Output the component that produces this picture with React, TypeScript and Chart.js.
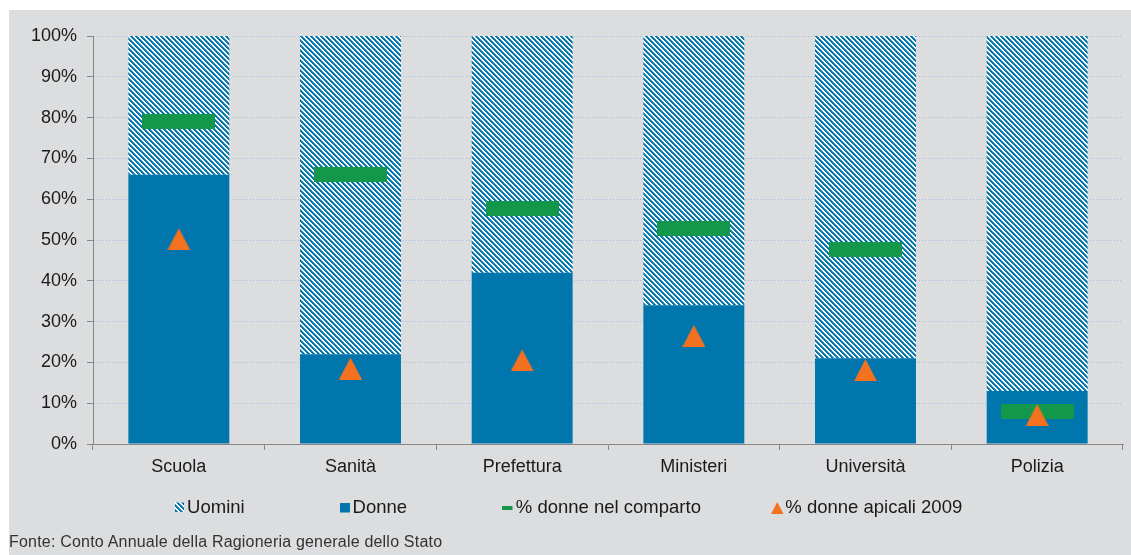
import React, { useEffect, useRef } from 'react';
import { Chart, registerables } from 'chart.js';

Chart.register(...registerables);

// ---- data ----
const categories = ['Scuola', 'Sanità', 'Prefettura', 'Ministeri', 'Università', 'Polizia'];
const donne = [66, 22, 42, 34, 21, 13];
const uomini = [34, 78, 58, 66, 79, 87];
const donneComparto = [79, 66, 57.7, 52.8, 47.7, 7.9];
const donneApicali = [50.2, 18.5, 20.5, 26.5, 18.1, 7.1];
const legendLabels = ['Uomini', 'Donne', '% donne nel comparto', '% donne apicali 2009'];
const footerText = 'Fonte: Conto Annuale della Ragioneria generale dello Stato';

// ---- styles ----
const FONT = "'Liberation Sans', Arial, Helvetica, sans-serif";
const BLUE = '#0076ac';
const BLUE_MID = '#3f95c0';
const GREEN = '#13984b';
const ORANGE = '#f4711f';
const BG = '#dcdddf';
const AXIS = '#878787';
const GRID = '#a3bce4';
const TEXT = '#1a1a1a';

function makeHatch(): CanvasPattern {
  const c = document.createElement('canvas');
  c.width = 5;
  c.height = 5;
  const ctx = c.getContext('2d')!;
  ctx.fillStyle = '#ffffff';
  ctx.fillRect(0, 0, 5, 5);
  for (let y = 0; y < 5; y++) {
    for (let x = 0; x < 5; x++) {
      const d = (((x - y) % 5) + 5) % 5;
      if (d < 2) {
        ctx.fillStyle = BLUE;
        ctx.fillRect(x, y, 1, 1);
      } else if (d === 2) {
        ctx.fillStyle = BLUE_MID;
        ctx.fillRect(x, y, 1, 1);
      }
    }
  }
  return ctx.createPattern(c, 'repeat')!;
}

function makeDash(w: number, h: number): HTMLCanvasElement {
  const c = document.createElement('canvas');
  c.width = w;
  c.height = h;
  const ctx = c.getContext('2d')!;
  ctx.fillStyle = GREEN;
  ctx.fillRect(0, 0, w, h);
  return c;
}

function makeTriangle(w: number, h: number): HTMLCanvasElement {
  const c = document.createElement('canvas');
  c.width = w;
  c.height = h;
  const ctx = c.getContext('2d')!;
  ctx.fillStyle = ORANGE;
  ctx.beginPath();
  ctx.moveTo(0, h);
  ctx.lineTo(w / 2, 0);
  ctx.lineTo(w, h);
  ctx.closePath();
  ctx.fill();
  return c;
}

export default function App() {
  const ref = useRef<HTMLCanvasElement | null>(null);

  useEffect(() => {
    const canvas = ref.current;
    if (!canvas) return;
    const hatch = makeHatch();
    const dashImg = makeDash(73, 15);
    const triImg = makeTriangle(23, 22);

    const legendPlugin = {
      id: 'customLegend',
      afterDraw(chart: any) {
        const ctx: CanvasRenderingContext2D = chart.ctx;
        const baseline = 503;
        ctx.save();
        // Uomini
        ctx.fillStyle = hatch;
        ctx.fillRect(166, 492.5, 9, 9.5);
        // Donne
        ctx.fillStyle = BLUE;
        ctx.fillRect(331, 493, 10, 9.5);
        // comparto
        ctx.fillStyle = GREEN;
        ctx.fillRect(493, 496, 10.5, 4);
        // apicali
        ctx.fillStyle = ORANGE;
        ctx.beginPath();
        ctx.moveTo(762, 504);
        ctx.lineTo(768.25, 492);
        ctx.lineTo(774.5, 504);
        ctx.closePath();
        ctx.fill();
        ctx.font = `18.5px ${FONT}`;
        ctx.fillStyle = TEXT;
        ctx.textBaseline = 'alphabetic';
        ctx.textAlign = 'left';
        const textX = [178.1, 343.6, 506.8, 776.3];
        legendLabels.forEach((t, i) => ctx.fillText(t, textX[i], baseline));
        ctx.restore();
      },
    };

    const chart = new Chart(canvas, {
      type: 'bar',
      data: {
        labels: categories,
        datasets: [
          {
            type: 'bar',
            label: legendLabels[1],
            data: donne,
            backgroundColor: BLUE,
            borderWidth: 0,
            barPercentage: 0.588,
            categoryPercentage: 1,
            order: 3,
          },
          {
            type: 'bar',
            label: legendLabels[0],
            data: uomini,
            backgroundColor: hatch as any,
            borderWidth: 0,
            barPercentage: 0.588,
            categoryPercentage: 1,
            order: 3,
          },
          {
            type: 'line',
            label: legendLabels[2],
            data: donneComparto,
            showLine: false,
            pointStyle: dashImg as any,
            pointRadius: 5,
            stack: 'comparto',
            order: 2,
          },
          {
            type: 'line',
            label: legendLabels[3],
            data: donneApicali,
            showLine: false,
            pointStyle: triImg as any,
            pointRadius: 5,
            stack: 'apicali',
            order: 1,
          },
        ] as any,
      },
      options: {
        responsive: false,
        animation: false,
        layout: { padding: { top: 26, right: 8, bottom: 81, left: 0 } },
        plugins: {
          legend: { display: false },
          tooltip: { enabled: false },
        },
        scales: {
          x: {
            stacked: true,
            grid: {
              drawOnChartArea: false,
              drawTicks: true,
              tickLength: 6,
              color: AXIS,
              tickColor: AXIS,
            },
            border: { color: AXIS, width: 1 },
            ticks: {
              font: { family: FONT, size: 18 },
              color: TEXT,
              padding: 6,
              maxRotation: 0,
              autoSkip: false,
            },
            afterFit: (s: any) => {
              s.height = 30;
            },
          },
          y: {
            stacked: true,
            min: 0,
            max: 100,
            grid: {
              color: GRID,
              tickColor: AXIS,
              tickLength: 6,
              lineWidth: 1,
            },
            border: { color: AXIS, width: 1, dash: [1, 2] },
            ticks: {
              stepSize: 10,
              font: { family: FONT, size: 18 },
              color: TEXT,
              padding: 10,
              callback: (v: any) => `${v}%`,
            },
            afterFit: (s: any) => {
              s.width = 84;
            },
          },
        },
      } as any,
      plugins: [legendPlugin],
    });

    return () => chart.destroy();
  }, []);

  return (
    <div
      style={{
        position: 'fixed',
        left: 9,
        top: 10,
        width: 1122,
        height: 545,
        background: BG,
        overflow: 'hidden',
      }}
    >
      <canvas ref={ref} width={1122} height={545} style={{ display: 'block' }} />
      <div
        style={{
          position: 'absolute',
          left: 0,
          top: 523,
          fontFamily: FONT,
          fontSize: 16,
          letterSpacing: '0.2px',
          lineHeight: '18px',
          color: '#333333',
          whiteSpace: 'nowrap',
        }}
      >
        {footerText}
      </div>
    </div>
  );
}
